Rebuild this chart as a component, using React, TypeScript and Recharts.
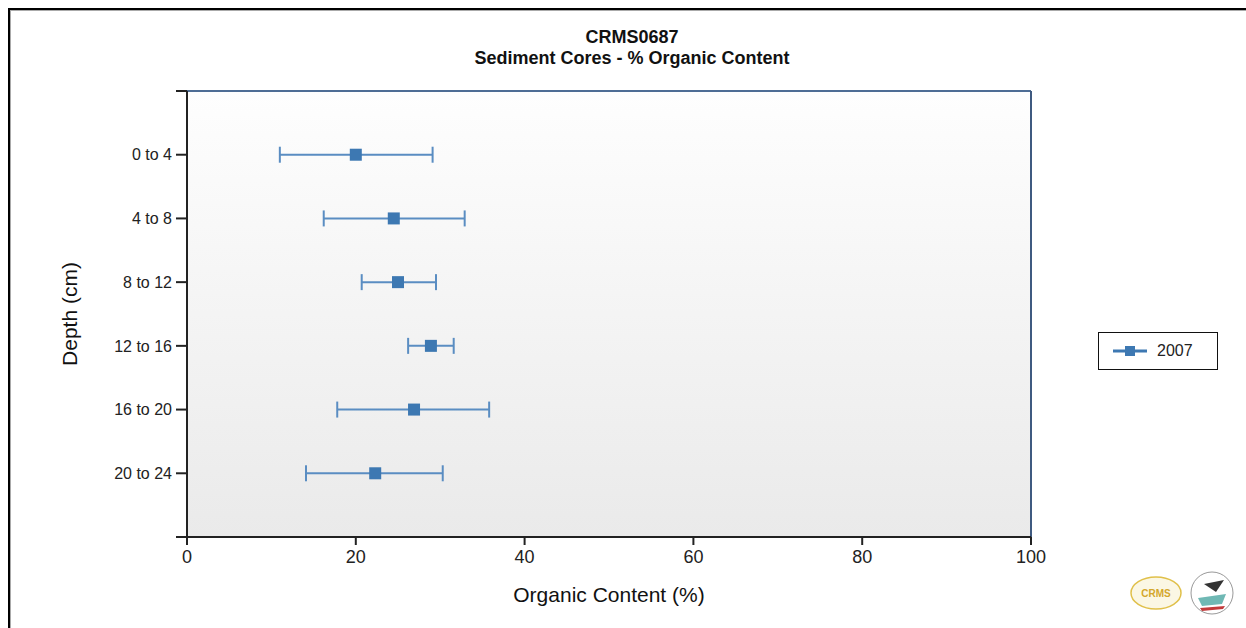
import React from "react";
import {
  ScatterChart,
  Scatter,
  XAxis,
  YAxis,
  ErrorBar,
  CartesianGrid,
  ReferenceLine,
} from "recharts";

const depthLabels = ["0 to 4", "4 to 8", "8 to 12", "12 to 16", "16 to 20", "20 to 24"];
const meanValues = [20.0, 24.5, 25.0, 28.9, 26.9, 22.3];
const lowValues = [11.0, 16.2, 20.7, 26.2, 17.8, 14.1];
const highValues = [29.1, 32.9, 29.5, 31.6, 35.8, 30.3];
const xTicks = [0, 20, 40, 60, 80, 100];
const seriesName = "2007";

const data = depthLabels.map((label, i) => ({
  label,
  depth: i + 1,
  value: meanValues[i],
  err: [meanValues[i] - lowValues[i], highValues[i] - meanValues[i]],
}));

const FONT = "'Liberation Sans', Arial, sans-serif";
const BLUE = "#3d78b2";
const WHISKER = "#5a8dc2";

const SquareDot = (props: any) => {
  const { cx, cy } = props;
  if (cx == null || cy == null) return null;
  return <rect x={cx - 6} y={cy - 6} width={12} height={12} fill={BLUE} />;
};

const LegendBox = () => (
  <div
    style={{
      position: "absolute",
      left: 1090,
      top: 324,
      width: 118,
      height: 36,
      border: "1.5px solid #111",
      background: "#fff",
      display: "flex",
      alignItems: "center",
      fontFamily: FONT,
      fontSize: 16,
      color: "#222",
    }}
  >
    <svg width={56} height={20} style={{ marginLeft: 8 }}>
      <line x1={6} y1={10} x2={40} y2={10} stroke={BLUE} strokeWidth={3} />
      <rect x={18} y={5} width={10} height={10} fill={BLUE} />
    </svg>
    <span style={{ marginLeft: -6 }}>{seriesName}</span>
  </div>
);

export default function App() {
  return (
    <div style={{ position: "relative", width: 1238, height: 620, overflow: "hidden", background: "#fff" }}>
      <style>{"html,body{margin:0;overflow:hidden} #root{padding:8px 0 0 8px;width:1238px;height:620px}"}</style>
      {/* frame lines */}
      <div style={{ position: "absolute", left: 0, top: 0, width: 1238, height: 2, background: "#000" }} />
      <div style={{ position: "absolute", left: 0, top: 2, width: 1238, height: 1, background: "#aaa" }} />
      <div style={{ position: "absolute", left: 0, top: 0, width: 2, height: 620, background: "#000" }} />
      <div style={{ position: "absolute", left: 2, top: 2, width: 1, height: 618, background: "#aaa" }} />

      <div
        style={{
          position: "absolute",
          left: 0,
          top: 19,
          width: 1238,
          textAlign: "center",
          fontFamily: FONT,
          fontWeight: "bold",
          fontSize: 18,
          lineHeight: "21px",
          color: "#111",
          paddingLeft: 10,
          boxSizing: "border-box",
        }}
      >
        <div>CRMS0687</div>
        <div>Sediment Cores - % Organic Content</div>
      </div>

      <div
        style={{
          position: "absolute",
          left: 62 - 100,
          top: 306 - 13,
          width: 200,
          textAlign: "center",
          transform: "rotate(-90deg)",
          fontFamily: FONT,
          fontSize: 21,
          lineHeight: "26px",
          color: "#111",
        }}
      >
        Depth (cm)
      </div>

      <div style={{ position: "absolute", left: 0, top: 0 }}>
        <ScatterChart
          width={1180}
          height={612}
          margin={{ top: 83, right: 157, bottom: 43, left: 69 }}
        >
          <defs>
            <linearGradient id="plotBg" x1="0" y1="0" x2="0" y2="1">
              <stop offset="0%" stopColor="#fefefe" />
              <stop offset="100%" stopColor="#eaeaea" />
            </linearGradient>
          </defs>
          <CartesianGrid horizontal={false} vertical={false} fill="url(#plotBg)" />
          <XAxis
            type="number"
            dataKey="value"
            domain={[0, 100]}
            ticks={xTicks}
            height={40}
            tickSize={8}
            tickMargin={5}
            stroke="#222"
            strokeWidth={2}
            tick={{ fontSize: 18, fill: "#222", fontFamily: FONT }}
            label={{
              value: "Organic Content (%)",
              position: "bottom",
              offset: 10,
              fontSize: 21,
              fill: "#111",
              fontFamily: FONT,
            }}
          />
          <YAxis
            type="number"
            dataKey="depth"
            domain={[0, 7]}
            ticks={[0, 1, 2, 3, 4, 5, 6, 7]}
            reversed
            width={110}
            tickSize={11}
            tickMargin={4}
            stroke="#222"
            strokeWidth={2}
            interval={0}
            tickFormatter={(v: number) => depthLabels[v - 1] ?? ""}
            tick={{ fontSize: 16, fill: "#222", fontFamily: FONT }}
          />
          <ReferenceLine y={0} stroke="#4e6d95" strokeWidth={2} />
          <ReferenceLine x={100} stroke="#3f5a80" strokeWidth={2} />
          <Scatter
            name={seriesName}
            data={data}
            shape={SquareDot}
            isAnimationActive={false}
          >
            <ErrorBar
              dataKey="err"
              direction="x"
              width={8}
              stroke={WHISKER}
              strokeWidth={2}
              isAnimationActive={false}
            />
          </Scatter>
        </ScatterChart>
      </div>

      <LegendBox />

      {/* logos */}
      <svg style={{ position: "absolute", left: 1122, top: 560 }} width={110} height={56}>
        <ellipse cx={26} cy={25} rx={25} ry={16} fill="#fbf7e4" stroke="#e0c04a" strokeWidth={1.5} />
        <text x={26} y={29} textAnchor="middle" fontSize={10} fontWeight="bold" fill="#d4a72c" fontFamily={FONT}>
          CRMS
        </text>
        <circle cx={82} cy={25} r={21} fill="#fff" stroke="#999" strokeWidth={1} />
        <path d="M68 30 L96 26 L92 36 L72 38 Z" fill="#6fb8b4" />
        <path d="M74 16 L94 12 L86 24 Z" fill="#333" />
        <path d="M70 40 L95 38 L93 41 L72 43 Z" fill="#c23b3b" />
      </svg>
    </div>
  );
}
